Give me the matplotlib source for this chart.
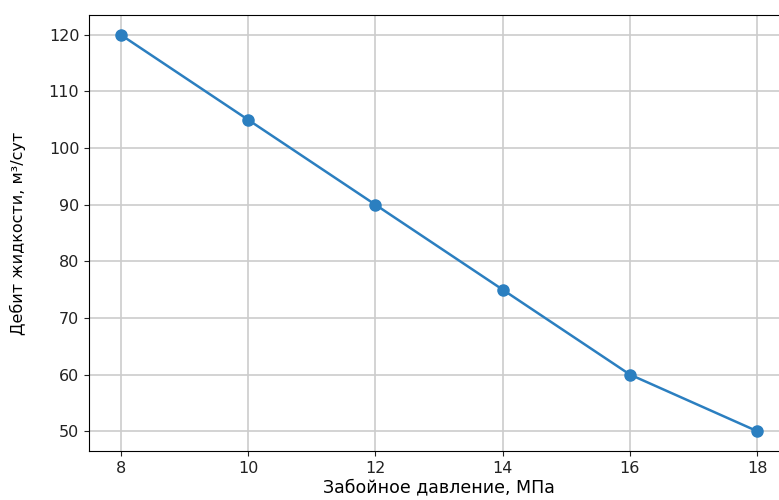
import numpy as np
import matplotlib.pyplot as plt

plt.rcParams['font.family'] = ['DejaVu Sans']

# Забойное давление, МПа / Дебит жидкости, м³/сут
pressure = [8, 10, 12, 14, 16, 18]
flow_rate = [120, 105, 90, 75, 60, 50]

fig = plt.figure(figsize=(7.79, 5.0), dpi=100)
ax = fig.add_axes([89 / 779, 49 / 500, 700 / 779, 436 / 500])

ax.plot(pressure, flow_rate, '-o', color='#2b7fc0', markersize=8, linewidth=1.8)
ax.set_xticks(pressure)
ax.set_yticks(np.arange(50, 121, 10))
ax.set_xlim(7.5, 18.5)
ax.set_ylim(46.5, 123.5)
ax.grid(True, color='#cccccc', linewidth=1.2)
ax.tick_params(labelsize=11.5, colors='#222222')
ax.set_xlabel('Забойное давление, МПа', fontsize=12.5, labelpad=2)
ax.set_ylabel('Дебит жидкости, м³/сут', fontsize=11.5, labelpad=16)

fig.savefig('out.png', dpi=100)
